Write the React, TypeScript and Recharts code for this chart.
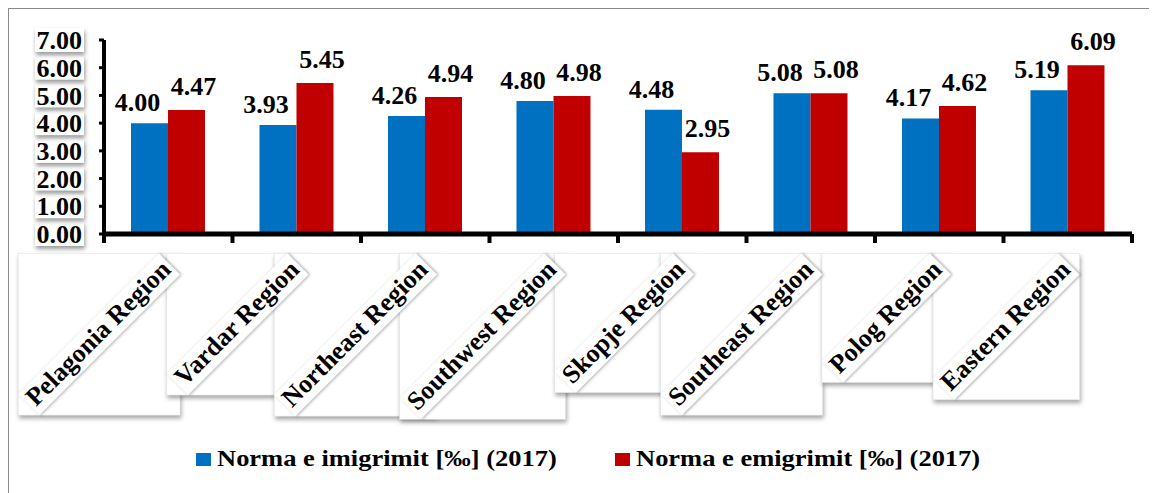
import React from 'react';
import { BarChart, Bar, XAxis, YAxis, Legend, LabelList } from 'recharts';

const regions = [
  'Pelagonia Region',
  'Vardar Region',
  'Northeast Region',
  'Southwest Region',
  'Skopje Region',
  'Southeast Region',
  'Polog Region',
  'Eastern Region',
];
const immigration = [4.0, 3.93, 4.26, 4.8, 4.48, 5.08, 4.17, 5.19];
const emigration = [4.47, 5.45, 4.94, 4.98, 2.95, 5.08, 4.62, 6.09];
const yTicks = [0, 1, 2, 3, 4, 5, 6, 7];
const seriesNames = ['Norma e imigrimit [‰] (2017)', 'Norma e emigrimit [‰] (2017)'];
const seriesColors = ['#0070C0', '#C00000'];

const data = regions.map((region, i) => ({ region, imm: immigration[i], emi: emigration[i] }));

const FONT = '"Liberation Serif", "Times New Roman", serif';
const LABEL_SIZE = 26;
const ASC = 22;
const DESC = 8;
const PAD = 3;
const R2 = Math.SQRT2;

const CHART_W = 1148;
const CHART_H = 484;
const MARGIN = { top: 31, right: 25, left: 0, bottom: 13 };
const LEGEND_H = 40;
const BOX_AXIS_H = 1;
const XAXIS_H = 205;
const PLOT_BOTTOM = CHART_H - MARGIN.bottom - LEGEND_H - XAXIS_H - BOX_AXIS_H;

let canvasEl: HTMLCanvasElement | null = null;
function measure(text: string, size: number): number {
  if (!canvasEl) canvasEl = document.createElement('canvas');
  const ctx = canvasEl.getContext('2d');
  if (!ctx) return text.length * size * 0.5;
  ctx.font = `bold ${size}px "Liberation Serif"`;
  return ctx.measureText(text).width;
}

function geom(x: number, text: string) {
  const W = measure(text, LABEL_SIZE);
  const ex = x + 4;
  const ey = PLOT_BOTTOM + 37;
  return {
    W,
    ex,
    ey,
    left: ex - (W + PAD + ASC) / R2,
    right: ex + (PAD + DESC) / R2,
    top: ey - (PAD + ASC) / R2,
    bottom: ey + (W + PAD + DESC) / R2,
  };
}

const BoxTick = (props: any) => {
  const { x, payload } = props;
  const g = geom(x, String(payload.value));
  return (
    <rect
      x={g.left}
      y={g.top}
      width={g.right - g.left}
      height={g.bottom - g.top}
      fill="#fff"
      stroke="#e4e4e4"
      strokeWidth={0.6}
      style={{ filter: 'drop-shadow(1px 3px 2px rgba(0,0,0,0.35))' }}
    />
  );
};

const LabelTick = (props: any) => {
  const { x, payload, index, visibleTicksCount } = props;
  const g = geom(x, String(payload.value));
  const half = payload.offset ?? 0;
  const isLast = index === (visibleTicksCount ?? regions.length) - 1;
  return (
    <g>
      <rect x={x - half - 2} y={PLOT_BOTTOM} width={4} height={9} fill="#000" />
      {isLast && <rect x={x + half - 2} y={PLOT_BOTTOM} width={4} height={9} fill="#000" />}
      <g transform={`translate(${g.ex},${g.ey}) rotate(-45)`}>
        <rect
          x={-g.W - PAD}
          y={-ASC}
          width={g.W + 2 * PAD}
          height={ASC + DESC}
          fill="#fff"
          style={{ filter: 'drop-shadow(1px 1px 1.5px rgba(0,0,0,0.35))' }}
        />
        <text
          x={0}
          y={0}
          textAnchor="end"
          fontFamily={FONT}
          fontWeight="bold"
          fontSize={LABEL_SIZE}
          fill="#000"
        >
          {payload.value}
        </text>
      </g>
    </g>
  );
};

const YTick = (props: any) => {
  const { x, y, payload } = props;
  return (
    <g>
      <rect
        x={x - 47}
        y={y - 12}
        width={49}
        height={24}
        fill="#fff"
        style={{ filter: 'drop-shadow(1px 3px 2px rgba(0,0,0,0.4))' }}
      />
      <text
        x={x}
        y={y}
        dy="0.35em"
        textAnchor="end"
        fontFamily={FONT}
        fontWeight="bold"
        fontSize={LABEL_SIZE}
        fill="#000"
      >
        {Number(payload.value).toFixed(2)}
      </text>
    </g>
  );
};

const makeValueLabel = (dx: number, gap: number) => (props: any) => {
  const { x, y, width, value } = props;
  return (
    <text
      x={Number(x) + Number(width) / 2 + dx}
      y={Number(y) - gap}
      textAnchor="middle"
      fontFamily={FONT}
      fontWeight="bold"
      fontSize={LABEL_SIZE}
      fill="#000"
    >
      {Number(value).toFixed(2)}
    </text>
  );
};

const LEGEND_FONT = 24;
const LEGEND_FIRST_TEXT_W = 340;

const renderLegend = (props: any) => {
  const payload = (props.payload || [])
    .filter((e: any) => seriesNames.indexOf(e.value) >= 0)
    .sort((a: any, b: any) => seriesNames.indexOf(a.value) - seriesNames.indexOf(b.value));
  const sx = LEGEND_FIRST_TEXT_W / measure(seriesNames[0], LEGEND_FONT);
  return (
    <div style={{ display: 'flex', paddingLeft: 187, gap: 58 }}>
      {payload.map((entry: any, i: number) => (
        <svg key={i} width={361} height={34} style={{ display: 'block', overflow: 'visible' }}>
          <rect x={0} y={13} width={15} height={13} fill={entry.color} />
          <g transform={`translate(21,26) scale(${sx},1)`}>
            <text x={0} y={0} fontFamily={FONT} fontWeight="bold" fontSize={LEGEND_FONT} fill="#000">
              {entry.value}
            </text>
          </g>
        </svg>
      ))}
    </div>
  );
};

export default function App() {
  return (
    <div
      style={{
        width: 1149,
        height: 485,
        borderTop: '1px solid #8a8a8a',
        borderLeft: '1px solid #8a8a8a',
        boxSizing: 'border-box',
        background: '#fff',
      }}
    >
      <BarChart
        width={CHART_W}
        height={CHART_H}
        data={data}
        margin={MARGIN}
        barCategoryGap="21%"
        barGap={0}
      >
        <XAxis
          xAxisId="box"
          dataKey="region"
          type="category"
          height={BOX_AXIS_H}
          axisLine={false}
          tickLine={false}
          tickSize={0}
          tickMargin={0}
          interval={0}
          tick={<BoxTick />}
        />
        <XAxis
          dataKey="region"
          height={XAXIS_H}
          axisLine={{ stroke: '#000', strokeWidth: 5 }}
          tickLine={false}
          tickSize={0}
          tickMargin={0}
          interval={0}
          tick={<LabelTick />}
        />
        <YAxis
          width={95}
          domain={[0, 7]}
          ticks={yTicks}
          interval={0}
          axisLine={{ stroke: '#000', strokeWidth: 4 }}
          tickLine={{ stroke: '#000', strokeWidth: 3 }}
          tickSize={5}
          tickMargin={17}
          tick={<YTick />}
        />
        <Legend verticalAlign="bottom" height={LEGEND_H} content={renderLegend} />
        <Bar
          xAxisId="box"
          dataKey="imm"
          fill="none"
          stroke="none"
          legendType="none"
          isAnimationActive={false}
        />
        <Bar dataKey="imm" name={seriesNames[0]} fill={seriesColors[0]} isAnimationActive={false}>
          <LabelList dataKey="imm" content={makeValueLabel(-12, 12)} />
        </Bar>
        <Bar dataKey="emi" name={seriesNames[1]} fill={seriesColors[1]} isAnimationActive={false}>
          <LabelList dataKey="emi" content={makeValueLabel(7, 15)} />
        </Bar>
      </BarChart>
    </div>
  );
}
